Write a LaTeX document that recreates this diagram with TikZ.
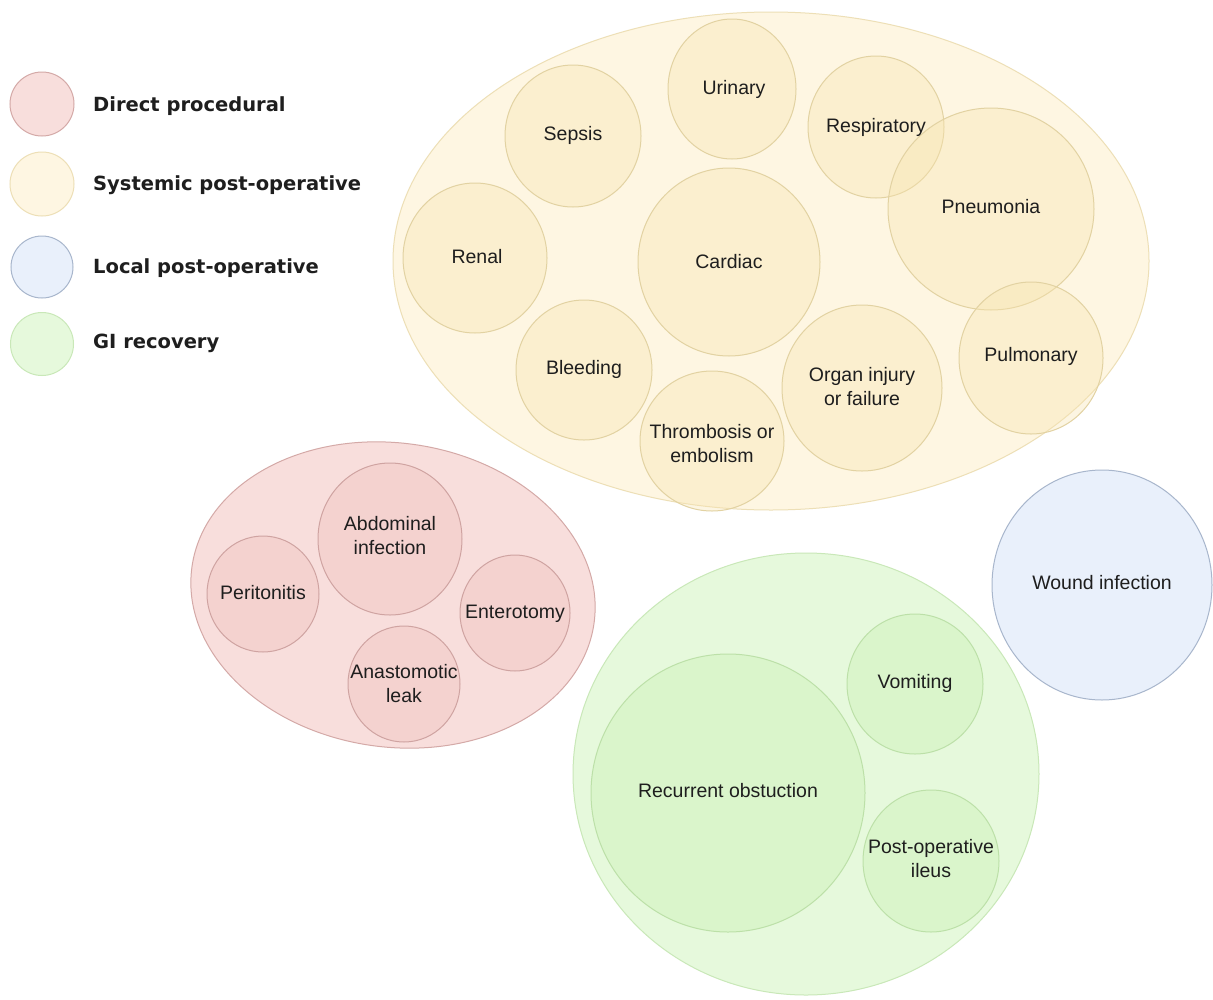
\documentclass[tikz,border=0pt]{standalone}
\usepackage{fontspec}
\setmainfont{Liberation Sans}
\newfontfamily\legendfont{DejaVu Sans}
\usetikzlibrary{shapes.geometric}
\definecolor{yOut}{HTML}{FEF6E2}
\definecolor{yOutD}{HTML}{EDDFB6}
\definecolor{yIn}{HTML}{F8E4AE}
\definecolor{yInD}{HTML}{E2D2A2}
\definecolor{rOut}{HTML}{F8DEDC}
\definecolor{rOutD}{HTML}{D4A9A7}
\definecolor{rIn}{HTML}{EFBCB9}
\definecolor{rInD}{HTML}{CFA3A1}
\definecolor{gOut}{HTML}{E6F9DC}
\definecolor{gOutD}{HTML}{C9E8B8}
\definecolor{gIn}{HTML}{C4EEAE}
\definecolor{gInD}{HTML}{BCE0A8}
\definecolor{bOut}{HTML}{E9F0FB}
\definecolor{bOutD}{HTML}{A8B6CC}
\definecolor{txt}{HTML}{1E1E1E}
\begin{document}
\begin{tikzpicture}[x=1pt,y=-1pt,
  blob/.style={ellipse, inner sep=0pt, line width=1pt},
  lbl/.style={align=center, text=txt, inner sep=0pt, font=\fontsize{19.5}{24}\selectfont},
  youter/.style={blob, fill=yOut, draw=yOutD},
  yinner/.style={blob, fill=yIn, fill opacity=0.35, draw=yInD, draw opacity=1},
  router/.style={blob, fill=rOut, draw=rOutD},
  rinner/.style={blob, fill=rIn, fill opacity=0.35, draw=rInD, draw opacity=1},
  gouter/.style={blob, fill=gOut, draw=gOutD},
  ginner/.style={blob, fill=gIn, fill opacity=0.35, draw=gInD, draw opacity=1},
  bouter/.style={blob, fill=bOut, draw=bOutD},
  legcirc/.style={circle, inner sep=0pt, minimum size=64pt, line width=1pt},
  legtext/.style={anchor=west, inner sep=0pt, text=txt, font=\legendfont\bfseries\fontsize{19.5}{24}\selectfont},
  sz/.style 2 args={minimum width=#1pt, minimum height=#2pt}
]
\useasboundingbox[fill=white] (0,0) rectangle (1213,999);

% Legend
\node[legcirc, fill=rOut, draw=rOutD] (l1) at (42,104) {};
\node[legcirc, fill=yOut, draw=yOutD] (l2) at (42,184) {};
\node[legcirc, fill=bOut, draw=bOutD, minimum size=62pt] (l3) at (42,267) {};
\node[legcirc, fill=gOut, draw=gOutD, minimum size=63pt] (l4) at (42,344) {};
\node[legtext] (t1) at (93,106) {Direct procedural};
\node[legtext] (t2) at (93,185) {Systemic post-operative};
\node[legtext] (t3) at (93,268) {Local post-operative};
\node[legtext] (t4) at (93,343) {GI recovery};

% Systemic post-operative
\node[youter, sz={756}{498}] (sys) at (771,261) {};
\node[yinner, sz={128}{140}] (urinary) at (732,89) {};
\node[yinner, sz={136}{142}] (sepsis) at (573,136) {};
\node[yinner, sz={136}{142}] (resp) at (876,127) {};
\node[yinner, sz={206}{202}] (pneu) at (991,209) {};
\node[yinner, sz={144}{150}] (renal) at (475,258) {};
\node[yinner, sz={182}{188}] (cardiac) at (729,262) {};
\node[yinner, sz={144}{152}] (pulm) at (1031,358) {};
\node[yinner, sz={136}{140}] (bleed) at (584,370) {};
\node[yinner, sz={160}{166}] (organ) at (862,388) {};
\node[yinner, sz={144}{140}] (thromb) at (712,441) {};
\node[lbl] (urinaryT) at ([xshift=2pt]urinary.center) {Urinary};
\node[lbl] (sepsisT) at ([yshift=1pt]sepsis.center) {Sepsis};
\node[lbl] (respT) at (resp.center) {Respiratory};
\node[lbl] (pneuT) at ([yshift=2pt]pneu.center) {Pneumonia};
\node[lbl] (renalT) at ([xshift=2pt,yshift=1pt]renal.center) {Renal};
\node[lbl] (cardiacT) at (cardiac.center) {Cardiac};
\node[lbl] (pulmT) at ([yshift=2pt]pulm.center) {Pulmonary};
\node[lbl] (bleedT) at ([yshift=1pt]bleed.center) {Bleeding};
\node[lbl] (organT) at ([yshift=1.5pt]organ.center) {Organ injury\\or failure};
\node[lbl] (thrombT) at ([yshift=-2.5pt]thromb.center) {Thrombosis or\\embolism};

% Direct procedural
\node[router, sz={406}{304}, rotate=-8] (dir) at (393,595) {};
\node[rinner, sz={144}{152}] (abdo) at (390,539) {};
\node[rinner, sz={112}{116}] (perit) at (263,594) {};
\node[rinner, sz={110}{116}] (entero) at (515,613) {};
\node[rinner, sz={112}{116}] (anast) at (404,684) {};
\node[lbl] (abdoT) at ([yshift=3pt]abdo.center) {Abdominal\\infection};
\node[lbl] (peritT) at ([yshift=1pt]perit.center) {Peritonitis};
\node[lbl] (enteroT) at ([yshift=-1pt]entero.center) {Enterotomy};
\node[lbl] (anastT) at ([yshift=0.5pt]anast.center) {Anastomotic\\leak};

% GI recovery
\node[gouter, sz={466}{442}] (gi) at (806,774) {};
\node[ginner, sz={274}{278}] (recur) at (728,793) {};
\node[ginner, sz={136}{140}] (vomit) at (915,684) {};
\node[ginner, sz={136}{142}] (ileus) at (931,861) {};
\node[lbl] (recurT) at ([yshift=2pt]recur.center) {Recurrent obstuction};
\node[lbl] (vomitT) at ([yshift=1pt]vomit.center) {Vomiting};
\node[lbl] (ileusT) at ([yshift=2pt]ileus.center) {Post-operative\\ileus};

% Local post-operative
\node[bouter, sz={220}{230}] (wound) at (1102,585) {};
\node[lbl] (woundT) at ([yshift=2pt]wound.center) {Wound infection};
\end{tikzpicture}
\end{document}
